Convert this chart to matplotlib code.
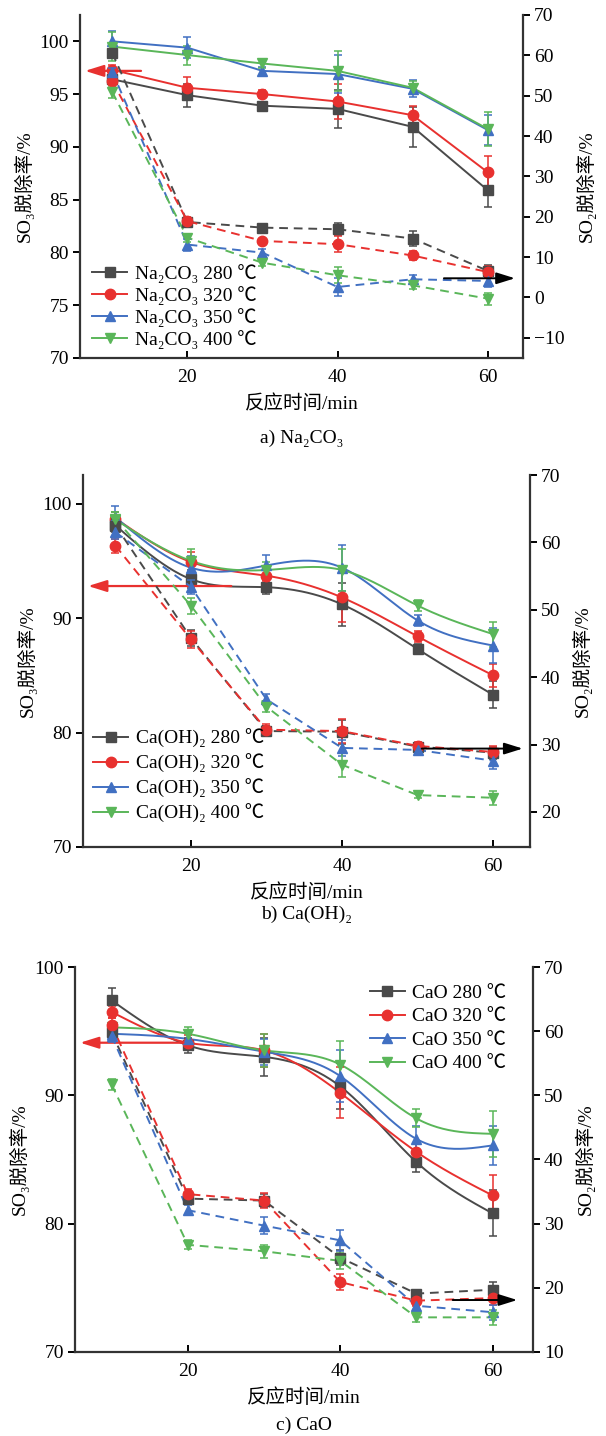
"""SO3 / SO2 removal versus reaction time for three sorbents."""

import numpy as np
import matplotlib

matplotlib.use("Agg")
import matplotlib.pyplot as plt
from matplotlib.lines import Line2D

plt.rcParams["font.family"] = ["Liberation Serif", "Noto Sans CJK SC", "DejaVu Sans"]
plt.rcParams["font.size"] = 14

TIME = [10, 20, 30, 40, 50, 60]
TEMPS = ["280", "320", "350", "400"]

# a) Na2CO3 -- rows: 280, 320, 350, 400 C
NA_SO3 = [
    [96.4, 94.9, 93.9, 93.6, 91.9, 85.9],
    [97.3, 95.6, 95.0, 94.3, 93.0, 87.6],
    [100.0, 99.4, 97.2, 96.9, 95.5, 91.6],
    [99.5, 98.7, 97.9, 97.2, 95.6, 91.7],
]
NA_SO3_ERR = [
    [0.5, 1.1, 0.3, 1.8, 1.9, 1.6],
    [0.5, 1.0, 0.4, 1.7, 0.9, 1.5],
    [1.0, 1.0, 0.4, 1.8, 0.8, 1.4],
    [1.4, 0.9, 0.4, 1.9, 0.6, 1.6],
]
NA_SO2 = [
    [60.6, 18.7, 17.3, 16.9, 14.6, 6.6],
    [53.6, 18.9, 14.0, 13.2, 10.4, 6.3],
    [55.9, 13.1, 11.1, 2.6, 4.5, 4.1],
    [50.9, 14.8, 8.6, 5.5, 3.0, -0.3],
]
NA_SO2_ERR = [
    [1.0, 1.0, 0.5, 1.5, 1.8, 1.5],
    [1.0, 1.0, 0.5, 2.0, 1.0, 1.5],
    [1.0, 1.5, 0.8, 2.2, 1.0, 1.5],
    [1.5, 1.0, 0.8, 2.0, 1.0, 1.5],
]

# b) Ca(OH)2
CAOH_SO3 = [
    [98.1, 93.4, 92.7, 91.2, 87.3, 83.3],
    [98.7, 94.9, 93.7, 91.8, 88.4, 85.0],
    [98.8, 94.4, 94.6, 94.4, 89.8, 87.6],
    [98.6, 95.0, 94.2, 94.2, 91.1, 88.6],
]
CAOH_SO3_ERR = [
    [0.5, 0.8, 0.6, 1.9, 0.4, 1.2],
    [0.6, 0.9, 0.5, 2.1, 0.5, 1.0],
    [1.0, 1.0, 0.9, 2.0, 0.5, 1.5],
    [0.7, 1.0, 0.7, 1.8, 0.5, 1.1],
]
CAOH_SO2 = [
    [62.5, 45.8, 32.0, 31.9, 29.7, 28.8],
    [59.5, 45.6, 32.2, 32.0, 29.8, 28.9],
    [61.5, 53.4, 36.7, 29.5, 29.2, 27.6],
    [63.5, 50.6, 35.6, 27.0, 22.5, 22.1],
]
CAOH_SO2_ERR = [
    [1.0, 1.2, 0.8, 1.8, 0.6, 0.9],
    [1.0, 1.2, 0.8, 1.8, 0.6, 0.9],
    [1.0, 1.0, 0.8, 1.2, 0.5, 1.2],
    [1.0, 1.2, 0.8, 1.8, 0.5, 1.0],
]

# c) CaO
CAO_SO3 = [
    [97.4, 93.9, 93.0, 90.7, 84.8, 80.8],
    [96.5, 94.1, 93.5, 90.2, 85.6, 82.2],
    [94.8, 94.4, 93.4, 91.5, 86.6, 86.1],
    [95.3, 94.8, 93.5, 92.4, 88.2, 87.0],
]
CAO_SO3_ERR = [
    [1.0, 0.6, 1.5, 1.8, 0.8, 1.8],
    [0.5, 0.6, 1.3, 2.0, 0.6, 1.6],
    [0.5, 0.5, 1.0, 2.0, 1.0, 1.5],
    [0.3, 0.5, 1.3, 1.8, 0.7, 1.8],
]
CAO_SO2 = [
    [59.8, 33.9, 33.6, 24.7, 19.1, 19.7],
    [61.0, 34.6, 33.6, 20.9, 18.0, 18.4],
    [59.3, 32.1, 29.7, 27.4, 17.2, 16.2],
    [51.7, 26.7, 25.7, 24.2, 15.4, 15.4],
]
CAO_SO2_ERR = [
    [1.0, 0.8, 1.0, 1.2, 0.6, 1.2],
    [1.0, 0.8, 1.2, 1.3, 0.8, 1.0],
    [1.0, 0.8, 1.3, 1.6, 0.8, 1.2],
    [0.8, 0.7, 1.0, 1.2, 0.8, 1.2],
]

COLORS = ["#4a4a4a", "#e8312f", "#4170c2", "#5ab659"]
MARKERS = ["s", "o", "^", "v"]


def _smooth(x, y, n=200):
    """Natural cubic spline through the points, used only to draw the curve."""
    x = np.asarray(x, float)
    y = np.asarray(y, float)
    h = np.diff(x)
    m = len(x)
    A = np.zeros((m, m))
    b = np.zeros(m)
    A[0, 0] = A[-1, -1] = 1
    for i in range(1, m - 1):
        A[i, i - 1] = h[i - 1]
        A[i, i] = 2 * (h[i - 1] + h[i])
        A[i, i + 1] = h[i]
        b[i] = 3 * ((y[i + 1] - y[i]) / h[i] - (y[i] - y[i - 1]) / h[i - 1])
    c = np.linalg.solve(A, b)
    xs = np.linspace(x[0], x[-1], n)
    idx = np.clip(np.searchsorted(x, xs) - 1, 0, m - 2)
    dx = xs - x[idx]
    bc = (y[idx + 1] - y[idx]) / h[idx] - h[idx] * (2 * c[idx] + c[idx + 1]) / 3
    d = (c[idx + 1] - c[idx]) / (3 * h[idx])
    return xs, y[idx] + bc * dx + c[idx] * dx**2 + d * dx**3


PANELS = [
    dict(
        rect=[0.132, 0.7507, 0.731, 0.2389],
        name="Na₂CO₃",
        caption="a) Na₂CO₃",
        caption_y=0.6885,
        so3=NA_SO3, so3_err=NA_SO3_ERR, so2=NA_SO2, so2_err=NA_SO2_ERR,
        smooth=False,
        xlim=(5.7, 64.7),
        ylim=(70, 102.5), yticks=np.arange(70, 101, 5),
        y2lim=(-15, 70), y2ticks=np.arange(-10, 71, 10),
        legend=dict(loc="lower left", bbox_to_anchor=(0.015, 0.01)),
        labelspacing=0.15,
        red_arrow=(14.2, 97.2),
        black_arrow=(53.8, 64.0, 4.75),
    ),
    dict(
        rect=[0.137, 0.4102, 0.7376, 0.259],
        name="Ca(OH)₂",
        caption="b) Ca(OH)₂",
        caption_y=0.3575,
        so3=CAOH_SO3, so3_err=CAOH_SO3_ERR, so2=CAOH_SO2, so2_err=CAOH_SO2_ERR,
        smooth=True,
        xlim=(5.7, 64.9),
        ylim=(70, 102.5), yticks=np.arange(70, 101, 10),
        y2lim=(14.8, 70), y2ticks=np.arange(20, 71, 10),
        legend=dict(loc="lower left", bbox_to_anchor=(0.01, 0.05)),
        labelspacing=0.3,
        red_arrow=(25.7, 92.8),
        black_arrow=(50.2, 64.3, 29.4),
    ),
    dict(
        rect=[0.1238, 0.0585, 0.7557, 0.2681],
        name="CaO",
        caption="c) CaO",
        caption_y=0.0012,
        so3=CAO_SO3, so3_err=CAO_SO3_ERR, so2=CAO_SO2, so2_err=CAO_SO2_ERR,
        smooth=True,
        xlim=(5.2, 65.3),
        ylim=(70, 100), yticks=np.arange(70, 101, 10),
        y2lim=(10, 70), y2ticks=np.arange(10, 71, 10),
        legend=dict(loc="upper right", bbox_to_anchor=(0.955, 0.97)),
        labelspacing=0.3,
        red_arrow=(19.8, 94.1),
        black_arrow=(54.4, 63.6, 18.1),
    ),
]


def _style_axes(ax, ax2):
    for a in (ax, ax2):
        a.spines["top"].set_visible(False)
        for s in ("left", "right", "bottom"):
            a.spines[s].set_linewidth(1.6)
            a.spines[s].set_color("#333333")
    ax.spines["right"].set_visible(False)
    ax2.spines["left"].set_visible(False)
    ax2.spines["bottom"].set_visible(False)
    ax.tick_params(axis="y", direction="out", length=5, width=1.4, pad=3)
    ax.tick_params(axis="x", direction="in", length=5, width=1.4, pad=8)
    ax2.tick_params(axis="y", direction="out", length=5, width=1.4, pad=3)


def draw_panel(fig, p):
    ax = fig.add_axes(p["rect"])
    ax2 = ax.twinx()
    ax.patch.set_visible(False)

    for i, temp in enumerate(TEMPS):
        c, m = COLORS[i], MARKERS[i]
        so3 = p["so3"][i]
        if p["smooth"]:
            xs, ys = _smooth(TIME, so3)
        else:
            xs, ys = TIME, so3
        ax.plot(xs, ys, color=c, lw=1.4, zorder=3)
        ax.errorbar(TIME, so3, yerr=p["so3_err"][i], fmt=m, color=c, ms=7.5,
                    capsize=3, elinewidth=1.1, capthick=1.1, zorder=4)
        ax2.plot(TIME, p["so2"][i], color=c, lw=1.4, ls=(0, (4.5, 3)), zorder=3)
        ax2.errorbar(TIME, p["so2"][i], yerr=p["so2_err"][i], fmt=m, color=c,
                     ms=7.5, capsize=3, elinewidth=1.1, capthick=1.1, zorder=4)

    ax.set_xlim(p["xlim"])
    ax.set_xticks([20, 40, 60])
    ax.set_ylim(p["ylim"])
    ax.set_yticks(p["yticks"])
    ax2.set_ylim(p["y2lim"])
    ax2.set_yticks(p["y2ticks"])
    ax2.set_yticklabels([f"{v:d}".replace("-", "\u2212") for v in p["y2ticks"]])
    _style_axes(ax, ax2)

    ax.set_xlabel("反应时间/min", labelpad=6)
    ax.set_ylabel("SO₃脱除率/%", labelpad=4)
    ax2.set_ylabel("SO₂脱除率/%", rotation=90, labelpad=8)

    # trend arrows: red -> left axis, black -> right axis
    rx, ry = p["red_arrow"]
    ax.annotate("", xy=(p["xlim"][0] + 0.3, ry), xytext=(rx, ry),
                arrowprops=dict(arrowstyle="-|>,head_length=0.8,head_width=0.25",
                                color="#e8312f", lw=1.6), zorder=6)
    bx0, bx1, by = p["black_arrow"]
    ax2.annotate("", xy=(bx1, by), xytext=(bx0, by),
                 arrowprops=dict(arrowstyle="-|>,head_length=0.8,head_width=0.25",
                                 color="black", lw=1.4), zorder=6)

    handles = [
        Line2D([], [], color=COLORS[i], marker=MARKERS[i], ms=7.5, lw=1.4)
        for i in range(len(TEMPS))
    ]
    labels = [f"{p['name']} {t} ℃" for t in TEMPS]
    ax2.legend(handles, labels, frameon=False, fontsize=14,
               labelspacing=p["labelspacing"], handlelength=1.8,
               handletextpad=0.4, borderpad=0.1, borderaxespad=0.2,
               **p["legend"])

    fig.text(p["rect"][0] + p["rect"][2] / 2, p["caption_y"], p["caption"],
             ha="center", va="bottom", fontsize=14)


fig = plt.figure(figsize=(6.06, 14.36), dpi=100)
for panel in PANELS:
    draw_panel(fig, panel)
fig.savefig("out.png", dpi=100, facecolor="white")
